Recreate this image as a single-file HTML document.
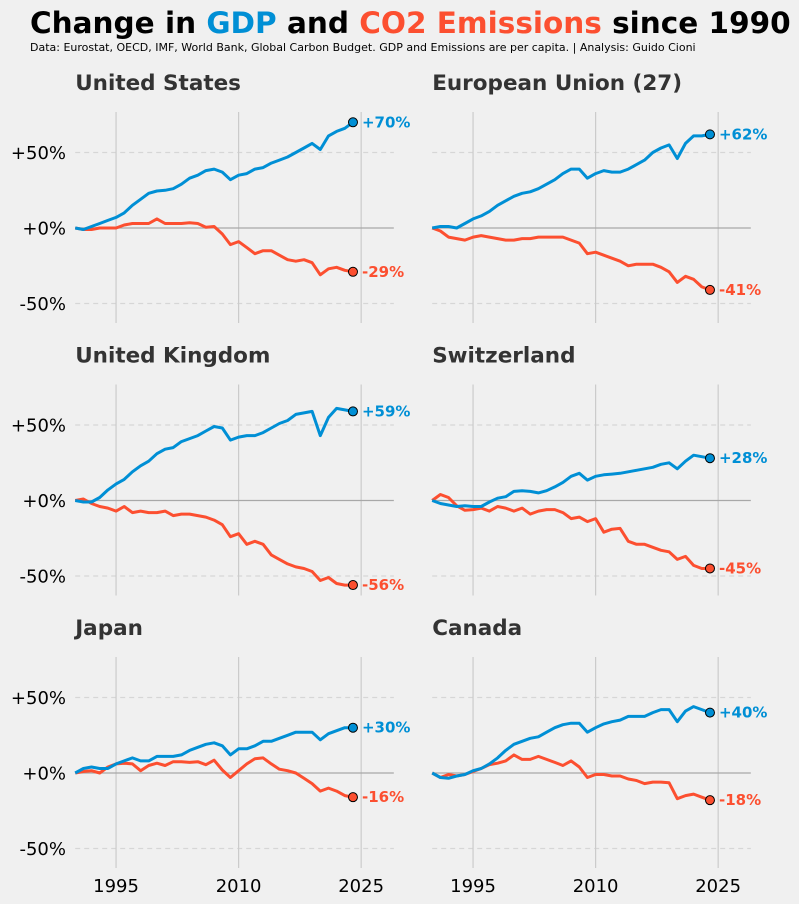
<!DOCTYPE html>
<html><head><meta charset="utf-8">
<style>
html,body{margin:0;padding:0;background:#f0f0f0;}
svg{display:block;font-family:"DejaVu Sans","Liberation Sans",sans-serif;}
</style></head>
<body>
<svg id="chart" width="799" height="904" viewBox="0 0 799 904" xmlns="http://www.w3.org/2000/svg">
<rect width="799" height="904" fill="#f0f0f0"/>
<text x="30" y="33" font-size="29.5" font-weight="bold" fill="#000"><tspan>Change in </tspan><tspan fill="#008fd5">GDP</tspan><tspan> and </tspan><tspan fill="#fc4f30">CO2 Emissions</tspan><tspan> since 1990</tspan></text>
<text x="30" y="51" font-size="11" fill="#000">Data: Eurostat, OECD, IMF, World Bank, Global Carbon Budget. GDP and Emissions are per capita. | Analysis: Guido Cioni</text>
<g id="panels"></g>
</svg>
<script>
const years = [1990,1991,1992,1993,1994,1995,1996,1997,1998,1999,2000,2001,2002,2003,2004,2005,2006,2007,2008,2009,2010,2011,2012,2013,2014,2015,2016,2017,2018,2019,2020,2021,2022,2023,2024];
const countries = ["United States","European Union (27)","United Kingdom","Switzerland","Japan","Canada"];
const usGdp = [0,-1,1,3,5,7,10,15,19,23,24.5,25,26,29,33,35,38,39,37,32,35,36,39,40,43,45,47,50,53,56,52,61,64,66,70];
const usCo2 = [0,-1,-1,0,0,0,2,3,3,3,6,3,3,3,3.5,3,0.5,1,-4,-11,-9,-13,-17,-15,-15,-18,-21,-22,-21,-23,-31,-27,-26,-28,-29];
const euGdp = [0,1,1,0,3,6,8,11,15,18,21,23,24,26,29,32,36,39,39,33,36,38,37,37,39,42,45,50,53,55,46,56,61,61,62];
const euCo2 = [0,-2,-6,-7,-8,-6,-5,-6,-7,-8,-8,-7,-7,-6,-6,-6,-6,-8,-10,-17,-16,-18,-20,-22,-25,-24,-24,-24,-26,-29,-36,-32,-34,-39,-41];
const ukGdp = [0,-1,-1,2,7,11,14,19,23,26,31,34,35,39,41,43,46,49,48,40,42,43,43,45,48,51,53,57,58,59,43,55,61,60,59];
const ukCo2 = [0,1,-2,-4,-5,-7,-4,-8,-7,-8,-8,-7,-10,-9,-9,-10,-11,-13,-16,-24,-22,-29,-27,-29,-36,-39,-42,-44,-45,-47,-53,-51,-55,-56,-56];
const chGdp = [0,-2,-3,-4,-3.5,-4,-4,-1,1.5,2.5,6,6.5,6,5,6.5,9,12,16,18,13.5,16,17,17.5,18,19,20,21,22,24,25,21,26,30,29,28];
const chCo2 = [0,4,2,-3.5,-6.5,-6,-5,-7,-4,-5,-7,-5,-9,-7,-6,-6,-8,-12,-11,-14,-12,-21,-19,-18.5,-27,-29,-29,-31,-33,-34,-39,-37,-43,-45,-45];
const jpGdp = [0,3,4,3,3,6,8,10,8,8,11,11,11,12,15,17,19,20,18,12,16,16,18,21,21,23,25,27,27,27,22,26,28,30,30];
const jpCo2 = [0,1,1.5,0,4,6,6.5,6,1.5,5,6.5,5,7.5,7.5,7,7.5,5.5,8.5,2,-3,1.5,6,9.5,10,6,2.5,1.5,0,-3.5,-7,-12,-10,-12,-15,-16];
const caGdp = [0,-3,-3.5,-2,-1,1.5,3,6,10,15,19,21,23,24,27,30,32,33,33,27,30,32.5,34,35,37.5,37.5,37.5,40,42,42,34,41,44,42,40];
const caCo2 = [0,-3,-1,-2,-1,1,3,5.5,6.5,8,12,9,9,11,9,7,5,8,4,-3,-1,-1,-2,-2,-4,-5,-7,-6,-6,-6.5,-17,-15,-14,-16,-18];
const gdpSeries = [usGdp,euGdp,ukGdp,chGdp,jpGdp,caGdp];
const co2Series = [usCo2,euCo2,ukCo2,chCo2,jpCo2,caCo2];
const yTicks = [50,0,-50];
const yTickLabels = ["+50%","+0%","-50%"];
const xTicks = [1995,2010,2025];

const NS = "http://www.w3.org/2000/svg";
const BLUE = "#008fd5", RED = "#fc4f30";
const colX0 = [75.2, 432.2];
const rowZero = [228, 500.5, 773];
const PXY = 8.17, PXP = 1.51;
const root = document.getElementById("panels");
function mk(tag, attrs, parent){
  const e = document.createElementNS(NS, tag);
  for (const k in attrs) e.setAttribute(k, attrs[k]);
  parent.appendChild(e);
  return e;
}
countries.forEach((name, i) => {
  const col = i % 2, row = Math.floor(i / 2);
  const x0 = colX0[col], z = rowZero[row];
  const xs = yr => x0 + (yr - 1990) * PXY;
  const ys = v => z - v * PXP;
  const g = mk("g", {}, root);
  
  
  const t = mk("text", {x: x0, y: z - 138, "font-size": 21.5, "font-weight": "bold", fill: "#333"}, g);
  t.textContent = name;
  
  
  const xEnd = xs(2029);
  yTicks.forEach((v, k) => {
    if (v !== 0) {
      const l = mk("line", {x1: x0, x2: xEnd, y1: ys(v), y2: ys(v), stroke: "#d6d6d6", "stroke-width": 1.2, "stroke-dasharray": "5,4"}, g);
      
      
    }
    if (col === 0) {
      const tl = mk("text", {x: 66, y: ys(v) + 6.5, "font-size": 18, "text-anchor": "end", fill: "#000"}, g);
      tl.textContent = yTickLabels[k];
      
      
    }
  });
  xTicks.forEach(yr => {
    const l = mk("line", {x1: xs(yr), x2: xs(yr), y1: z - 116, y2: z + 95, stroke: "#cbcbcb", "stroke-width": 1.2}, g);
    
    
    if (row === 2) {
      const tl = mk("text", {x: xs(yr), y: 892, "font-size": 18, "text-anchor": "middle", fill: "#000"}, g);
      tl.textContent = yr;
      
      
    }
  });
  const zl = mk("line", {x1: x0, x2: xEnd, y1: z, y2: z, stroke: "#a8a8a8", "stroke-width": 1.2}, g);
  
  
  [[co2Series[i], RED, 'co2'], [gdpSeries[i], BLUE, 'gdp']].forEach(([vals, c, key]) => {
    const d = vals.map((v, k) => (k ? "L" : "M") + xs(years[k]).toFixed(1) + "," + ys(v).toFixed(1)).join(" ");
    const p = mk("path", {d: d, fill: "none", stroke: c, "stroke-width": 3, "stroke-linejoin": "round"}, g);
    
    
    const last = vals[vals.length - 1];
    const lx = xs(years[years.length - 1]), ly = ys(last);
    const dot = mk("circle", {cx: lx, cy: ly, r: 4.5, fill: c, stroke: "#000", "stroke-width": 1}, g);
    
    
    const lab = mk("text", {x: lx + 9, y: ly + 5, "font-size": 15, "font-weight": "bold", fill: c}, g);
    lab.textContent = (last >= 0 ? "+" : "") + Math.round(last) + "%";
    
    
  });
});
</script>
</body></html>
